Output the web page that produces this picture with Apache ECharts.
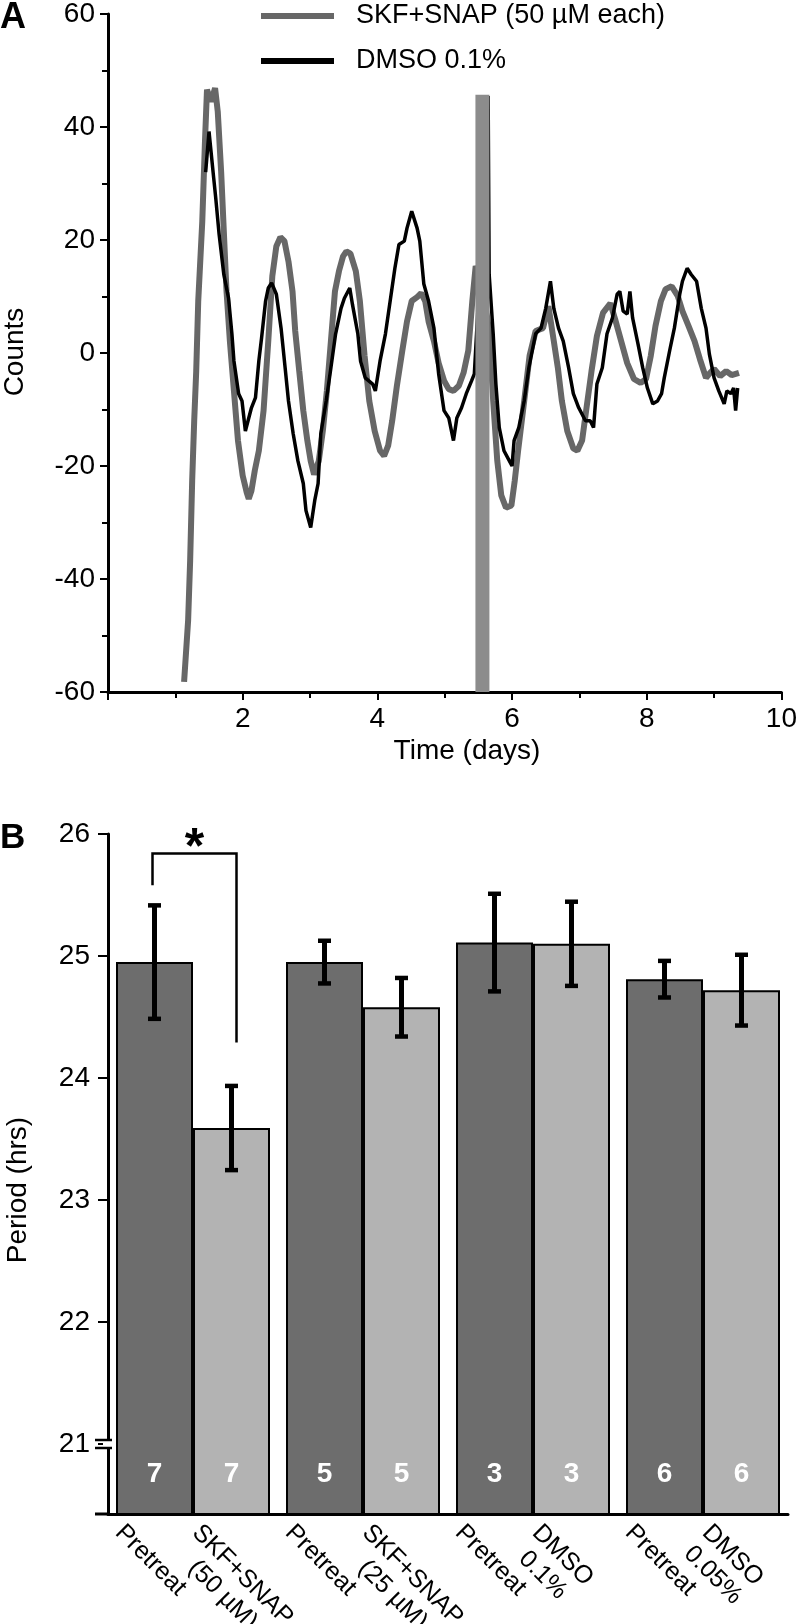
<!DOCTYPE html>
<html><head><meta charset="utf-8">
<script src="https://cdn.jsdelivr.net/npm/echarts@6/dist/echarts.min.js"></script>
<style>html,body{margin:0;padding:0;background:#fff}#c{width:800px;height:1624px}</style>
</head><body><div id="c"></div>
<script>
// ---------- Panel A data ----------
const skfTrace = [[1.13,-58.2],[1.19,-47.3],[1.22,-36.7],[1.25,-22.6],[1.28,-12.0],[1.31,-3.2],[1.34,9.2],[1.40,23.3],[1.44,37.4],[1.47,46.6],[1.53,44.5],[1.59,46.9],[1.63,42.7],[1.68,32.1],[1.72,21.5],[1.76,10.9],[1.81,2.1],[1.87,-6.7],[1.93,-15.5],[2.00,-21.7],[2.06,-24.7],[2.09,-25.8],[2.13,-24.4],[2.18,-20.8],[2.24,-17.3],[2.31,-10.2],[2.38,2.1],[2.44,13.6],[2.50,18.9],[2.56,20.5],[2.62,19.8],[2.68,16.2],[2.74,10.9],[2.78,3.9],[2.84,-3.2],[2.90,-10.2],[2.96,-15.5],[3.01,-19.1],[3.06,-21.5],[3.13,-19.1],[3.19,-13.8],[3.25,-6.7],[3.31,2.1],[3.37,10.9],[3.43,14.5],[3.49,17.1],[3.54,18.0],[3.60,17.6],[3.68,14.5],[3.74,9.2],[3.81,-0.5],[3.88,-8.5],[3.96,-13.8],[4.04,-17.3],[4.10,-18.2],[4.16,-16.4],[4.22,-12.0],[4.29,-5.8],[4.37,0.4],[4.44,5.6],[4.51,9.2],[4.59,9.9],[4.65,10.6],[4.71,9.2],[4.76,5.6],[4.84,2.1],[4.91,-1.8],[4.99,-4.9],[5.06,-6.4],[5.13,-6.7],[5.21,-5.8],[5.28,-3.5],[5.35,0.4],[5.41,9.2],[5.46,15.4],[5.56,12.0],[5.66,3.9],[5.72,-8.5],[5.78,-19.0],[5.84,-25.2],[5.91,-27.4],[5.99,-27.0],[6.04,-22.6],[6.09,-17.3],[6.18,-8.5],[6.26,-0.5],[6.35,3.9],[6.46,4.4],[6.54,8.3],[6.62,2.1],[6.68,-2.6],[6.74,-8.5],[6.82,-13.8],[6.91,-16.9],[6.97,-17.3],[7.04,-15.5],[7.10,-10.2],[7.18,-3.2],[7.26,3.0],[7.35,7.1],[7.46,8.8],[7.53,6.0],[7.62,2.1],[7.71,-1.8],[7.81,-4.6],[7.91,-5.3],[7.99,-4.6],[8.06,-0.5],[8.13,4.8],[8.21,9.2],[8.28,11.3],[8.37,11.8],[8.46,10.1],[8.53,7.4],[8.62,4.8],[8.71,2.1],[8.79,-1.1],[8.88,-4.4],[8.94,-3.5],[9.00,-2.8],[9.09,-4.1],[9.18,-3.2],[9.26,-3.9],[9.37,-3.5]];
const dmsoTrace = [[1.45,32.0],[1.50,39.2],[1.57,30.9],[1.60,27.4],[1.65,21.0],[1.72,13.9],[1.79,9.7],[1.84,3.4],[1.87,-1.4],[1.94,-7.2],[1.99,-8.5],[2.04,-13.8],[2.13,-9.7],[2.19,-7.9],[2.24,-1.4],[2.28,2.6],[2.34,9.2],[2.38,11.5],[2.43,12.4],[2.50,10.4],[2.57,4.4],[2.63,-2.6],[2.68,-8.5],[2.75,-14.3],[2.82,-19.1],[2.90,-23.1],[2.94,-27.9],[3.01,-30.9],[3.07,-26.1],[3.12,-23.1],[3.16,-14.3],[3.24,-8.5],[3.31,-2.6],[3.38,3.4],[3.46,7.9],[3.51,9.7],[3.59,11.5],[3.63,8.6],[3.71,3.4],[3.75,-1.4],[3.82,-4.4],[3.93,-5.5],[3.97,-6.7],[4.04,-1.4],[4.12,3.4],[4.19,9.2],[4.26,15.0],[4.32,19.2],[4.40,19.8],[4.44,22.1],[4.51,25.1],[4.59,22.1],[4.63,19.8],[4.69,12.2],[4.76,9.2],[4.84,4.4],[4.91,-3.7],[4.99,-10.2],[5.06,-11.5],[5.13,-15.5],[5.18,-11.5],[5.25,-9.7],[5.32,-7.2],[5.40,-4.9],[5.44,-3.7],[5.55,20.0],[5.645,45.5],[5.66,13.9],[5.72,3.4],[5.76,-5.5],[5.81,-13.2],[5.88,-17.3],[5.96,-19.1],[6.00,-20.0],[6.03,-15.5],[6.10,-13.2],[6.18,-8.5],[6.25,-2.6],[6.35,3.4],[6.43,4.4],[6.50,7.9],[6.57,12.7],[6.62,7.9],[6.69,4.4],[6.76,2.1],[6.84,-2.6],[6.91,-7.2],[6.99,-9.7],[7.09,-12.0],[7.16,-12.0],[7.21,-13.2],[7.26,-5.5],[7.34,-2.6],[7.41,3.4],[7.49,6.2],[7.56,10.4],[7.60,10.9],[7.65,7.4],[7.71,6.9],[7.75,10.9],[7.79,6.2],[7.87,1.6],[7.94,-2.6],[8.01,-6.2],[8.09,-9.0],[8.16,-8.5],[8.22,-7.2],[8.26,-4.4],[8.34,0.4],[8.41,4.4],[8.49,10.4],[8.53,12.7],[8.60,15.0],[8.66,13.9],[8.74,12.7],[8.81,7.9],[8.88,4.4],[8.93,-0.2],[9.00,-4.4],[9.07,-6.7],[9.15,-9.0],[9.19,-6.7],[9.25,-7.2],[9.29,-6.2],[9.32,-10.2],[9.35,-6.2]];
const treatmentDay = 5.56;
const treatmentRange = [-60, 45.7];
const seriesNames = ['SKF+SNAP (50 µM each)', 'DMSO 0.1%'];

// ---------- Panel B data ----------
const groups = ['SKF+SNAP (50 µM)', 'SKF+SNAP (25 µM)', 'DMSO 0.1%', 'DMSO 0.05%'];
const pretreatPeriod = [24.95, 24.95, 25.11, 24.81];
const pretreatErr = [0.465, 0.175, 0.40, 0.15];
const treatPeriod = [23.59, 24.58, 25.10, 24.72];
const treatErr = [0.345, 0.24, 0.345, 0.29];
const pretreatN = [7, 5, 3, 6];
const treatN = [7, 5, 3, 6];
const pretreatLabels = ['Pretreat', 'Pretreat', 'Pretreat', 'Pretreat'];
const treatLabels = ['SKF+SNAP\n(50 µM)', 'SKF+SNAP\n(25 µM)', 'DMSO\n0.1%', 'DMSO\n0.05%'];
const periodTicks = [21, 22, 23, 24, 25, 26];
// [groupIndex, bracket top, left leg end, right leg end, star]
const sigBracket = [[0, 25.84, 25.58, 24.29, 25.97]];

// ---------- style ----------
const FONT = '"Liberation Sans", Arial, sans-serif';
const NUM_FONT = '"Liberation Sans Narrow", "Liberation Sans", Arial, sans-serif';
const FS = 28;
const LEG_FS = 27;
const CAT_FS = 25;
const BAR_W = 77;
const B_MIN = 26 - 680 / 122;
const LINE_H = 28;
const STAR_SIZE = 50;

const mctx = document.createElement('canvas').getContext('2d');
mctx.font = CAT_FS + 'px ' + FONT;
function blockW(lines) { return Math.max.apply(null, lines.map(l => mctx.measureText(l).width)); }

const errData = [];
const labelData = [];
groups.forEach((g, i) => {
  errData.push([i, 0, pretreatPeriod[i], pretreatErr[i]]);
  errData.push([i, 1, treatPeriod[i], treatErr[i]]);
  labelData.push([i, 0]);
  labelData.push([i, 1]);
});

function renderErr(params, api) {
  const cat = api.value(0), side = api.value(1), m = api.value(2), s = api.value(3);
  const hi = api.coord([cat, m + s]), lo = api.coord([cat, m - s]);
  const x = hi[0] + (side ? 1 : -1) * BAR_W / 2;
  const cw = 6.5;
  return { type: 'group', children: [
    { type: 'line', shape: { x1: x, y1: hi[1], x2: x, y2: lo[1] }, style: { stroke: '#000', lineWidth: 5 } },
    { type: 'line', shape: { x1: x - cw, y1: hi[1], x2: x + cw, y2: hi[1] }, style: { stroke: '#000', lineWidth: 4.5 } },
    { type: 'line', shape: { x1: x - cw, y1: lo[1], x2: x + cw, y2: lo[1] }, style: { stroke: '#000', lineWidth: 4.5 } }
  ]};
}

function renderXLabel(params, api) {
  const cat = api.value(0), side = api.value(1);
  const text = (side ? treatLabels : pretreatLabels)[cat];
  const base = api.coord([cat, B_MIN]);
  const barLeft = base[0] + (side ? 0 : -BAR_W);
  const ax = barLeft + 13, ay = base[1] + 5;
  const lines = text.split('\n');
  const W = blockW(lines), H = lines.length * LINE_H;
  const c = Math.SQRT1_2;
  const cx = ax + c * W / 2 - c * H / 2, cy = ay + c * W / 2 + c * H / 2;
  return { type: 'text', x: cx, y: cy, rotation: -Math.PI / 4,
    style: { text: text, fill: '#000', font: CAT_FS + 'px ' + FONT, align: 'center', verticalAlign: 'middle', lineHeight: LINE_H } };
}

function renderBracket(params, api) {
  const cat = api.value(0);
  const top = api.coord([cat, api.value(1)]);
  const lb = api.coord([cat, api.value(2)]);
  const rb = api.coord([cat, api.value(3)]);
  const st = api.coord([cat, api.value(4)]);
  const xl = top[0] - BAR_W / 2 - 2, xr = top[0] + BAR_W / 2 + 5;
  return { type: 'group', children: [
    { type: 'polyline', shape: { points: [[xl, lb[1]], [xl, top[1]], [xr, top[1]], [xr, rb[1]]] }, style: { stroke: '#000', lineWidth: 2.5, fill: null } },
    { type: 'text', x: (xl + xr) / 2, y: st[1] + 0.23 * STAR_SIZE, style: { text: '*', fill: '#000', font: 'bold ' + STAR_SIZE + 'px ' + FONT, align: 'center', verticalAlign: 'middle' } }
  ]};
}

const chart = echarts.init(document.getElementById('c'), null, { renderer: 'canvas', width: 800, height: 1624 });
chart.setOption({
  animation: false,
  backgroundColor: '#fff',
  textStyle: { fontFamily: FONT },
  grid: [
    { left: 108, top: 12, width: 680, height: 680 },
    { left: 108, top: 834, width: 680, height: 680 }
  ],
  legend: {
    orient: 'vertical', left: 261, top: 2, padding: 0,
    itemWidth: 73, itemHeight: 6, itemGap: 17, icon: 'rect',
    textStyle: { fontSize: LEG_FS, lineHeight: 28, color: '#000', fontFamily: FONT, padding: [0, 0, 0, 17] },
    data: seriesNames
  },
  xAxis: [
    { gridIndex: 0, type: 'value', min: 0, max: 10, interval: 2,
      axisLine: { onZero: false, lineStyle: { color: '#000', width: 3 } },
      axisTick: { length: 8, lineStyle: { color: '#000', width: 2 } },
      minorTick: { show: true, splitNumber: 2, length: 6, lineStyle: { color: '#000', width: 2 } },
      splitLine: { show: false },
      axisLabel: { fontSize: FS, color: '#000', margin: 13, fontFamily: FONT, formatter: v => (v === 0 ? '' : String(v)) } },
    { gridIndex: 1, type: 'category', data: groups,
      axisLine: { onZero: false, lineStyle: { color: '#000', width: 3 } },
      axisTick: { show: false }, axisLabel: { show: false }, splitLine: { show: false } }
  ],
  yAxis: [
    { gridIndex: 0, type: 'value', min: -60, max: 60, interval: 20,
      axisLine: { show: true, onZero: false, lineStyle: { color: '#000', width: 3 } },
      axisTick: { show: true, length: 8, lineStyle: { color: '#000', width: 2 } },
      minorTick: { show: true, splitNumber: 2, length: 6, lineStyle: { color: '#000', width: 2 } },
      splitLine: { show: false },
      axisLabel: { fontSize: FS, color: '#000', margin: 13, fontFamily: FONT } },
    { gridIndex: 1, type: 'value', min: B_MIN, max: 26,
      axisLine: { show: true, onZero: false, lineStyle: { color: '#000', width: 3 } },
      axisTick: { show: true, length: 10, customValues: periodTicks, lineStyle: { color: '#000', width: 2 } },
      splitLine: { show: false },
      axisLabel: { fontSize: FS, color: '#000', margin: 18, fontFamily: FONT, customValues: periodTicks } }
  ],
  series: [
    { name: seriesNames[0], type: 'line', xAxisIndex: 0, yAxisIndex: 0, data: skfTrace, showSymbol: false, color: '#676767',
      lineStyle: { color: '#676767', width: 6 }, z: 2, silent: true },
    { name: seriesNames[1], type: 'line', xAxisIndex: 0, yAxisIndex: 0, data: dmsoTrace, showSymbol: false, color: '#000',
      lineStyle: { color: '#000', width: 3.5 }, z: 3, silent: true },
    { name: 'treatment', type: 'line', xAxisIndex: 0, yAxisIndex: 0,
      data: [[treatmentDay, treatmentRange[0]], [treatmentDay, treatmentRange[1]]], showSymbol: false,
      lineStyle: { color: '#8c8c8c', width: 14, cap: 'butt' }, z: 4, silent: true },
    { name: 'Pretreat', type: 'bar', xAxisIndex: 1, yAxisIndex: 1, data: pretreatPeriod, barWidth: BAR_W, barGap: '0%',
      itemStyle: { color: '#6d6d6d', borderColor: '#000', borderWidth: 2 },
      label: { show: true, position: 'insideBottom', distance: 27, color: '#fff', fontWeight: 'bold', fontSize: 28, fontFamily: NUM_FONT,
        formatter: p => String(pretreatN[p.dataIndex]) } },
    { name: 'Treatment', type: 'bar', xAxisIndex: 1, yAxisIndex: 1, data: treatPeriod, barWidth: BAR_W, barGap: '0%',
      itemStyle: { color: '#b3b3b3', borderColor: '#000', borderWidth: 2 },
      label: { show: true, position: 'insideBottom', distance: 27, color: '#fff', fontWeight: 'bold', fontSize: 28, fontFamily: NUM_FONT,
        formatter: p => String(treatN[p.dataIndex]) } },
    { type: 'custom', xAxisIndex: 1, yAxisIndex: 1, data: errData, encode: { x: 0, y: 2 }, renderItem: renderErr, z: 5, silent: true, clip: false },
    { type: 'custom', xAxisIndex: 1, yAxisIndex: 1, data: labelData, encode: { x: 0, y: 1 }, renderItem: renderXLabel, z: 5, silent: true, clip: false },
    { type: 'custom', xAxisIndex: 1, yAxisIndex: 1, data: sigBracket, encode: { x: 0, y: 1 }, renderItem: renderBracket, z: 5, silent: true, clip: false }
  ]
});

const y21 = chart.convertToPixel({ yAxisIndex: 1 }, 21);
const yBase = chart.convertToPixel({ yAxisIndex: 1 }, B_MIN);
chart.setOption({
  graphic: [
    { type: 'text', x: 0, y: 0, style: { text: 'A', font: 'bold 36px ' + FONT, fill: '#000' } },
    { type: 'text', x: 0, y: 821, style: { text: 'B', font: 'bold 35px ' + FONT, fill: '#000' } },
    { type: 'text', x: 15, y: 352, rotation: Math.PI / 2, style: { text: 'Counts', font: FS + 'px ' + FONT, fill: '#000', align: 'center', verticalAlign: 'middle' } },
    { type: 'text', x: 467, y: 751, style: { text: 'Time (days)', font: FS + 'px ' + FONT, fill: '#000', align: 'center', verticalAlign: 'middle' } },
    { type: 'text', x: 18, y: 1190, rotation: Math.PI / 2, style: { text: 'Period (hrs)', font: FS + 'px ' + FONT, fill: '#000', align: 'center', verticalAlign: 'middle' } },
    { type: 'rect', z: 100, shape: { x: 103, y: y21 - 3, width: 10, height: 6 }, style: { fill: '#fff' } },
    { type: 'line', z: 101, shape: { x1: 95, y1: y21 - 4, x2: 112, y2: y21 - 4 }, style: { stroke: '#000', lineWidth: 2.5 } },
    { type: 'line', z: 101, shape: { x1: 95, y1: y21 + 4, x2: 112, y2: y21 + 4 }, style: { stroke: '#000', lineWidth: 2.5 } },
    { type: 'line', z: 101, shape: { x1: 95, y1: yBase, x2: 108, y2: yBase }, style: { stroke: '#000', lineWidth: 3 } }
  ]
});
</script>
</body></html>
